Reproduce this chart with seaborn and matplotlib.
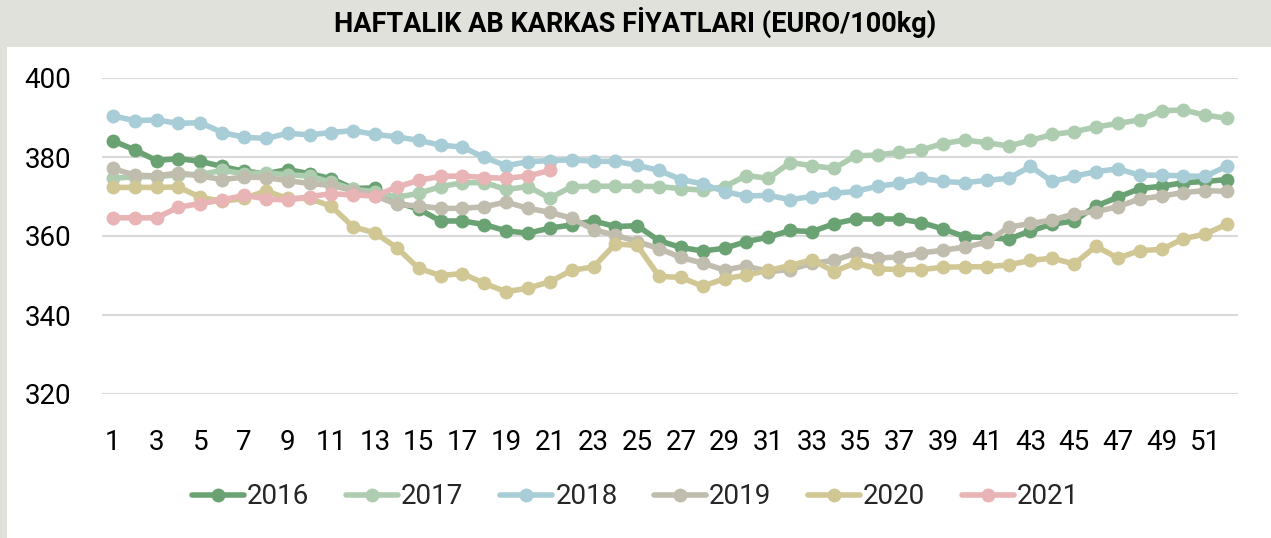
import numpy as np
import pandas as pd
import matplotlib
matplotlib.use("Agg")
import matplotlib.pyplot as plt
import seaborn as sns

weeks = list(range(1, 53))
years = ["2016", "2017", "2018", "2019", "2020", "2021"]

y2016 = [384.1, 381.8, 379.1, 379.6, 378.9, 377.6, 376.4, 375.8, 376.8, 375.8, 374.5, 372.0, 372.2,
         368.5, 366.8, 363.8, 363.8, 362.9, 361.3, 360.7, 362.0, 362.8, 363.8, 362.4, 362.6, 358.8,
         357.1, 356.2, 356.9, 358.6, 359.7, 361.4, 361.1, 363.1, 364.3, 364.3, 364.3, 363.4, 361.8,
         359.8, 359.6, 359.2, 361.3, 363.0, 363.8, 367.6, 369.8, 372.0, 372.6, 373.5, 373.8, 374.3]
y2017 = [374.6, 375.0, 375.0, 375.5, 375.6, 376.6, 375.8, 376.0, 375.5, 375.2, 373.6, 371.8, 371.2,
         369.8, 370.8, 372.5, 373.5, 373.5, 371.8, 372.5, 369.6, 372.5, 372.6, 372.6, 372.6, 372.5,
         372.0, 371.6, 372.5, 375.3, 374.6, 378.6, 377.8, 377.1, 380.3, 380.5, 381.2, 381.8, 383.4,
         384.3, 383.6, 382.8, 384.2, 385.7, 386.4, 387.6, 388.5, 389.4, 391.7, 391.9, 390.6, 389.8]
y2018 = [390.4, 389.2, 389.4, 388.5, 388.7, 386.2, 385.0, 384.7, 386.0, 385.6, 386.2, 386.7, 385.7,
         385.1, 384.2, 383.0, 382.5, 379.9, 377.8, 378.8, 379.1, 379.3, 378.9, 378.9, 377.9, 376.6,
         374.3, 373.2, 371.2, 370.1, 370.3, 369.2, 370.0, 370.8, 371.3, 372.6, 373.3, 374.6, 373.8,
         373.5, 374.1, 374.6, 377.6, 373.8, 375.1, 376.3, 377.0, 375.4, 375.4, 375.2, 375.1, 377.7]
y2019 = [377.1, 375.4, 375.2, 376.0, 375.2, 374.3, 374.9, 374.8, 374.0, 373.3, 372.8, 371.5, 370.2,
         368.0, 367.6, 367.0, 367.0, 367.4, 368.6, 367.0, 366.0, 364.5, 361.6, 360.2, 358.6, 356.8,
         354.6, 353.1, 351.4, 352.4, 351.0, 351.5, 353.1, 353.8, 355.6, 354.4, 354.7, 355.7, 356.4,
         357.2, 358.4, 362.2, 363.2, 364.0, 365.6, 366.2, 367.4, 369.4, 370.1, 371.0, 371.5, 371.3]
y2020 = [372.3, 372.3, 372.3, 372.4, 369.8, 368.8, 369.5, 371.4, 369.5, 369.5, 367.5, 362.3, 360.8,
         357.0, 351.8, 350.0, 350.5, 348.0, 345.9, 346.8, 348.4, 351.3, 352.2, 358.0, 357.6, 349.8,
         349.5, 347.3, 349.2, 350.1, 351.3, 352.5, 354.0, 351.0, 353.2, 351.7, 351.5, 351.5, 352.1,
         352.2, 352.2, 352.7, 353.8, 354.4, 352.9, 357.4, 354.4, 356.3, 356.6, 359.3, 360.5, 363.0]
y2021 = [364.6, 364.6, 364.6, 367.3, 368.2, 369.1, 370.3, 369.4, 369.1, 370.0, 370.7, 370.4, 370.1,
         372.4, 374.1, 375.1, 375.2, 374.8, 374.6, 375.2, 376.6]

series = [y2016, y2017, y2018, y2019, y2020, y2021]
colors = ["#6ba273", "#aecdb0", "#a8cdd6", "#c0bdae", "#d1c795", "#e8b4b5"]

rows = []
for yr, vals in zip(years, series):
    for w, v in zip(weeks, vals):
        rows.append({"Hafta": w - 1, "Fiyat": v, "Yıl": yr})
df = pd.DataFrame(rows)

sns.set_theme(style="white")
plt.rcParams["font.family"] = ["Roboto", "DejaVu Sans"]

fig = plt.figure(figsize=(12.71, 5.38), dpi=100)
fig.patch.set_facecolor("#e1e1dc")
# white chart panel inside the grey frame
fig.add_artist(plt.Rectangle((7 / 1271, 0), 1, 1 - 47 / 538, transform=fig.transFigure,
                             facecolor="white", edgecolor="none", zorder=0))

ax = fig.add_axes([102 / 1271, 1 - 394 / 538, (1238 - 102) / 1271, (394 - 78) / 538])
ax.set_facecolor("none")

sns.lineplot(data=df, x="Hafta", y="Fiyat", hue="Yıl", palette=dict(zip(years, colors)),
             marker="o", markersize=10, markeredgewidth=0, linewidth=4.0, ax=ax,
             legend=False, clip_on=False)

ax.set_xlim(-0.5, 51.5)
ax.set_ylim(320, 400)
ax.set_yticks([320, 340, 360, 380, 400])
ax.set_xticks(list(range(0, 52, 2)))
ax.set_xticklabels([str(w) for w in weeks[::2]])
ax.grid(axis="y", color="#d9d9d9", linewidth=1.5)
ax.grid(axis="x", visible=False)
for s in ax.spines.values():
    s.set_visible(False)
ax.tick_params(axis="both", length=0, labelsize=20, colors="black")
ax.tick_params(axis="y", pad=22)
ax.tick_params(axis="x", pad=25)
ax.set_xlabel("")
ax.set_ylabel("")
ax.set_axisbelow(True)

fig.text(0.5, 1 - 22 / 538, "HAFTALIK AB KARKAS FİYATLARI (EURO/100kg)", ha="center",
         va="center", fontsize=19.5, fontweight="bold", color="black")

handles = [plt.Line2D([], [], color=c, marker="o", markersize=10, markeredgewidth=0,
                      linewidth=4.0) for c in colors]
fig.legend(handles, years, loc="center", bbox_to_anchor=(0.5, 1 - 497 / 538), ncol=6,
           frameon=False, fontsize=20, handlelength=1.9, handletextpad=0.1, columnspacing=1.3)

fig.savefig("out.png", dpi=100, facecolor=fig.get_facecolor())
